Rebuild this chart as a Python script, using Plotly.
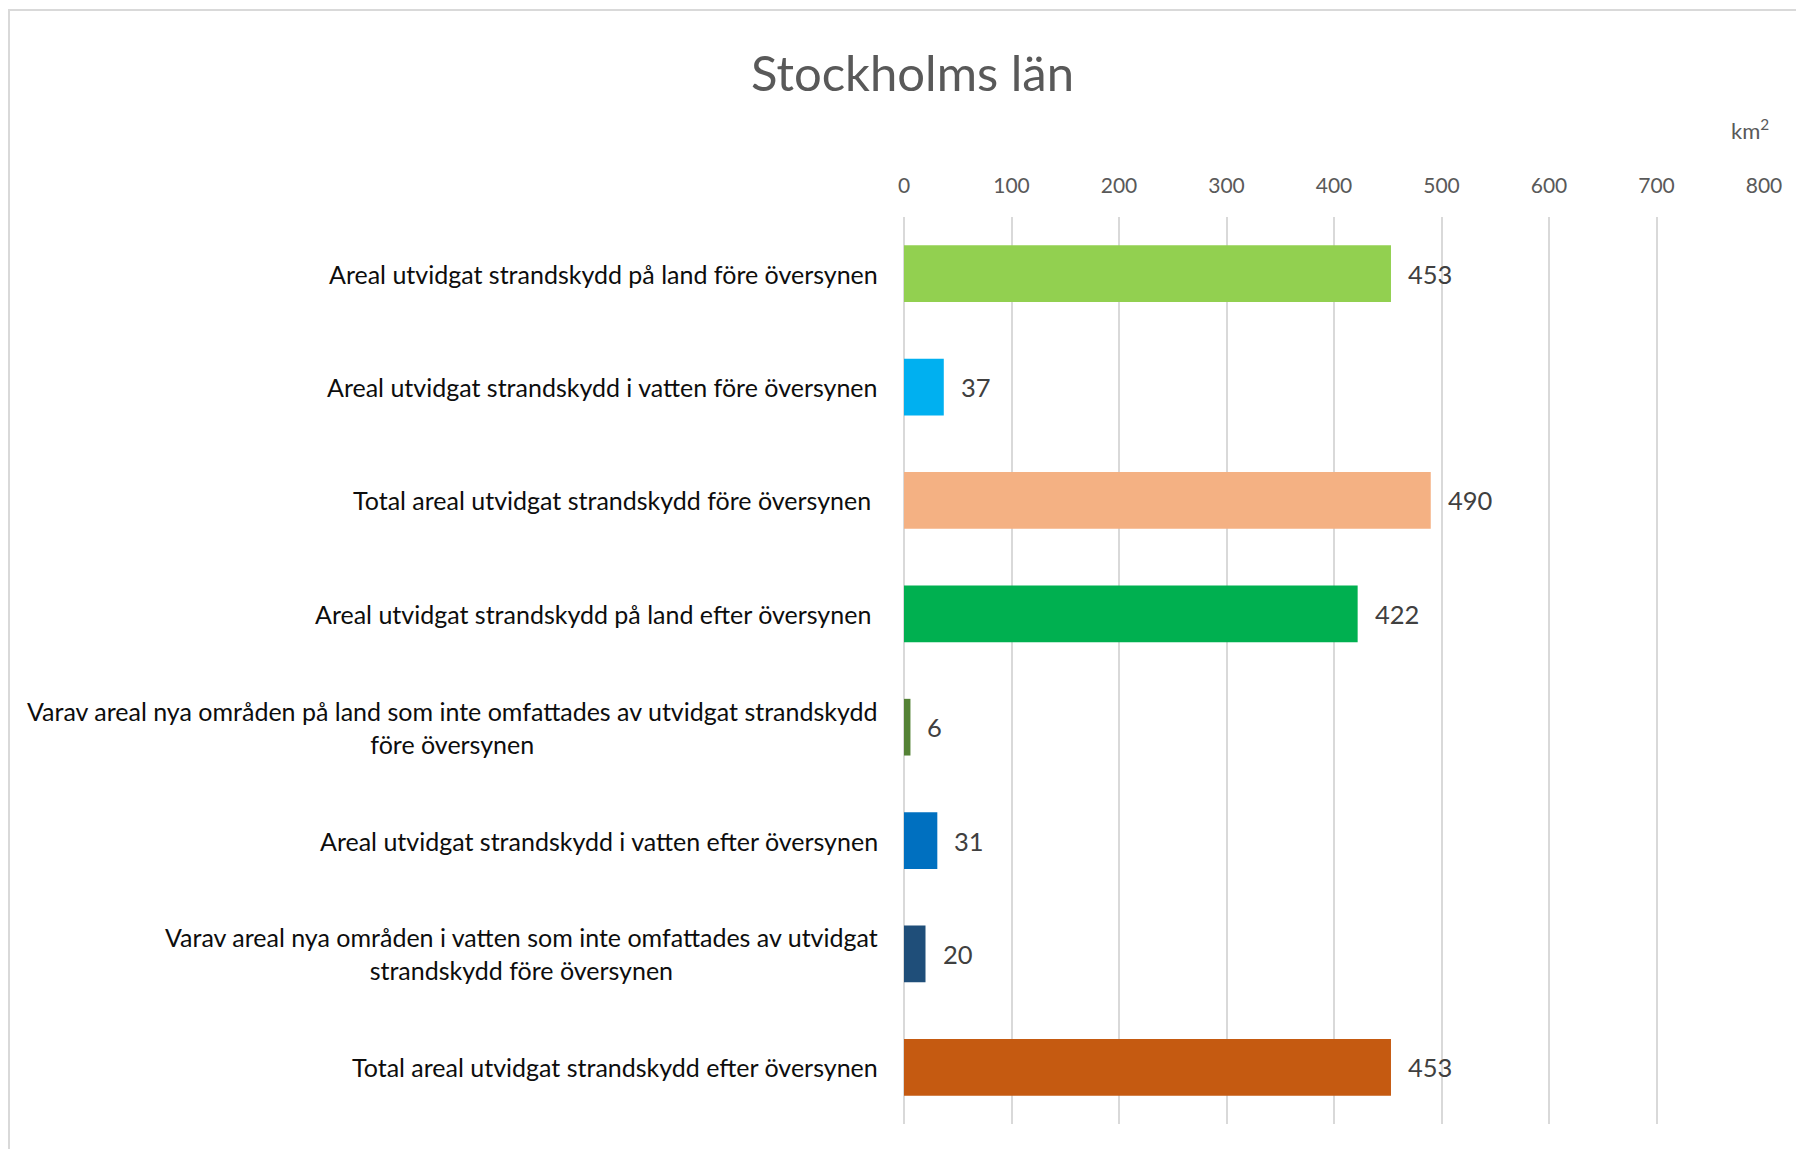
import plotly.graph_objects as go

categories = [
    "Areal utvidgat strandskydd på land före översynen",
    "Areal utvidgat strandskydd i vatten före översynen",
    "Total areal utvidgat strandskydd före översynen\u00a0",
    "Areal utvidgat strandskydd på land efter översynen\u00a0",
    "Varav areal nya områden på land som inte omfattades av utvidgat strandskydd<br>före översynen",
    "Areal utvidgat strandskydd i vatten efter översynen",
    "Varav areal nya områden i vatten som inte omfattades av utvidgat<br>strandskydd före översynen",
    "Total areal utvidgat strandskydd efter översynen",
]
values = [453, 37, 490, 422, 6, 31, 20, 453]
colors = ["#92D050", "#00B0F0", "#F4B183", "#00B050", "#548235", "#0070C0", "#1F4E79", "#C55A11"]
tick_values = [0, 100, 200, 300, 400, 500, 600, 700, 800]
title_text = "Stockholms län"
unit_text = "km<sup>2</sup>"

W, H = 1796, 1149
L, R, T, B = 903.5, 32, 217, 24.5
pw, ph = W - L - R, H - T - B

def px(x):
    return (x - L) / pw

def py(y):
    return (H - B - y) / ph

FONT = "Lato"

fig = go.Figure()
fig.add_trace(go.Bar(
    x=values, y=categories, orientation="h",
    marker=dict(color=colors, line=dict(width=0)),
    hoverinfo="skip",
))

annotations = []
for c in categories:
    annotations.append(dict(
        x=0, y=c, xref="paper", yref="y", xanchor="right", yanchor="middle",
        xshift=-24, text=c, showarrow=False, align="center",
        font=dict(family=FONT, size=25, color="#0D0D0D"),
    ))
for c, v in zip(categories, values):
    annotations.append(dict(
        x=v, y=c, xref="x", yref="y", xanchor="left", yanchor="middle",
        xshift=15, text=str(v), showarrow=False,
        font=dict(family=FONT, size=25.5, color="#404040"),
    ))
annotations.append(dict(
    x=px(1750), y=py(129), xref="paper", yref="paper", xanchor="center", yanchor="middle",
    text=unit_text, showarrow=False, font=dict(family=FONT, size=22, color="#595959"),
))
annotations.append(dict(
    x=px(912), y=py(72), xref="paper", yref="paper", xanchor="center", yanchor="middle",
    text=title_text, showarrow=False, font=dict(family=FONT, size=49, color="#595959"),
))

fig.update_layout(
    width=W, height=H,
    margin=dict(l=L, r=R, t=T, b=B, autoexpand=False),
    paper_bgcolor="white", plot_bgcolor="white",
    bargap=0.5, showlegend=False,
    annotations=annotations,
    shapes=[dict(type="rect", xref="paper", yref="paper",
                 x0=px(8), y0=py(H + 20), x1=px(W + 20), y1=py(10),
                 line=dict(color="#D9D9D9", width=2), fillcolor="rgba(0,0,0,0)", layer="below")],
    xaxis=dict(
        side="top", range=[0, 800], tickvals=tick_values, showgrid=True,
        gridcolor="#D9D9D9", gridwidth=2, zeroline=True, zerolinecolor="#D9D9D9", zerolinewidth=2,
        showline=False, ticks="", tickfont=dict(family=FONT, size=21, color="#595959"),
        ticklabelstandoff=19, fixedrange=True,
    ),
    yaxis=dict(
        categoryorder="array", categoryarray=categories, autorange="reversed",
        showticklabels=False, showgrid=False, zeroline=False, ticks="", fixedrange=True,
    ),
)

fig.write_html(
    "out.html",
    config={"displayModeBar": False, "staticPlot": True},
    post_script="document.body.style.margin='0';document.body.style.overflow='hidden';",
)
